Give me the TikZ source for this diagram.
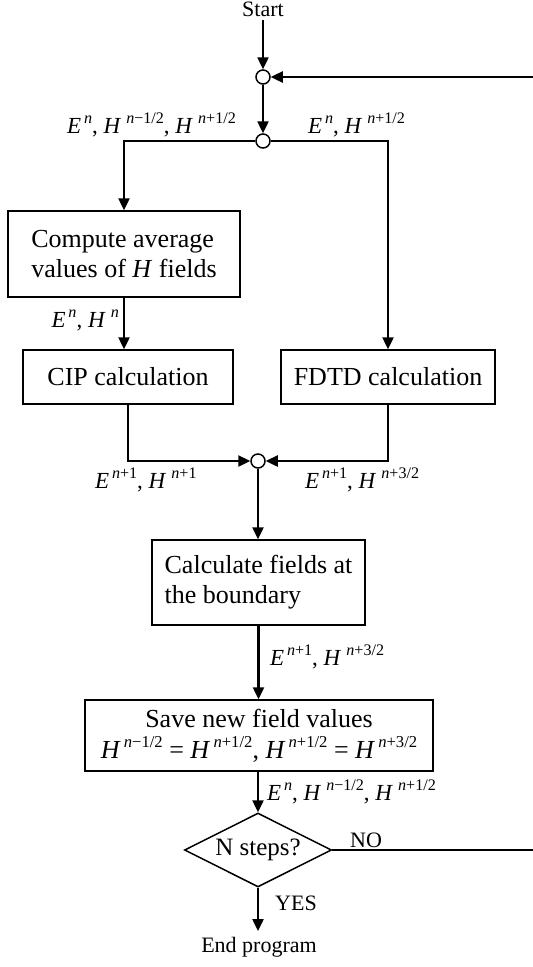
\documentclass[tikz,border=0pt]{standalone}
\usepackage{fontspec}
\setmainfont{Liberation Serif}
\usetikzlibrary{arrows.meta,shapes.geometric}
\makeatletter
\newcommand\sups[2][0.7]{\raisebox{0.42em}{\fontsize{\strip@pt\dimexpr#1\dimexpr\f@size pt\relax\relax}{1}\selectfont #2}}
\makeatother
\newcommand\Fd[2]{\textit{#1}\kern0.12em\sups{#2}}
\newcommand\Hd[1]{\textit{H}\kern0.22em\sups{#1}}
\newcommand\Hs[1]{\textit{H}\kern0.12em\sups[0.64]{#1}}
\newcommand\nn{\textit{n}}
\begin{document}
\begin{tikzpicture}[x=1pt,y=-1pt,
  box/.style={draw,line width=1.5pt,inner sep=0pt,font=\fontsize{26}{30}\selectfont},
  lbl/.style={inner sep=0pt,font=\fontsize{23}{27}\selectfont},
  jn/.style={circle,draw,fill=white,line width=1.5pt,minimum size=14pt,inner sep=0pt},
  conn/.style={line width=2.4pt},
  arr/.style={conn,-{Triangle[length=12pt,width=11pt]}}]
\useasboundingbox (0,0) rectangle (533,967);

\node[lbl,anchor=base,outer sep=4pt,font=\fontsize{22}{26}\selectfont] (start) at (263,16) {Start};
\node[jn] (c1) at (263,77) {};
\node[jn] (c2) at (263,141) {};
\node[box,minimum width=232pt,minimum height=86pt,align=left] (avg) at (124,254) {Compute average\\values of \textit{H} fields};
\node[box,minimum width=210pt,minimum height=54pt] (cip) at (128,377) {CIP calculation};
\node[box,minimum width=214pt,minimum height=54pt] (fdtd) at (388,377) {FDTD calculation};
\node[jn] (c3) at (258,461) {};
\node[box,minimum width=213pt,minimum height=85pt,align=left] (calc) at (258.5,582.5) {Calculate fields at\\the boundary};
\node[box,minimum width=348pt,minimum height=71pt,align=center,font=\fontsize{26}{31}\selectfont] (save) at (259,735.5) {Save new field values\\\Hs{\nn−1/2} = \Hs{\nn+1/2}, \Hs{\nn+1/2} = \Hs{\nn+3/2}};
\node[diamond,draw,aspect=2,line width=1.5pt,minimum width=147pt,minimum height=74pt,inner sep=0pt,font=\fontsize{25}{30}\selectfont] (dec) at (258,850) {N steps?};
\node[lbl,anchor=base,font=\fontsize{22}{26}\selectfont] (endp) at (259,952) {End program};
\coordinate (yesend) at (258,931);
\coordinate (rb) at (538,850);

\draw[arr] (start.south) -- (c1.north);
\draw[arr] (c1.south) -- (c2.north);
\draw[arr] (c2.west) -| (avg.north);
\draw[arr] (c2.east) -| (fdtd.north);
\draw[arr] (avg.south) -- (avg.south |- cip.north);
\draw[arr] (cip.south) |- (c3.west);
\draw[arr] (fdtd.south) |- (c3.east);
\draw[arr] (c3.south) -- (c3.south |- calc.north);
\draw[arr] (calc.south) -- (calc.south |- save.north);
\draw[arr] (dec.north |- save.south) -- (dec.north);
\draw[arr] (dec.south) -- (yesend);
\draw[arr] (dec.east) -- (rb) |- (c1.east);

\node[lbl,anchor=base west] (l1) at (67,133) {\Fd{E}{\nn}, \Hd{\nn−1/2}, \Hd{\nn+1/2}};
\node[lbl,anchor=base west] (l2) at (308,133) {\Fd{E}{\nn}, \Hd{\nn+1/2}};
\node[lbl,anchor=base east] (l3) at (119,327) {\Fd{E}{\nn}, \Hd{\nn}};
\node[lbl,anchor=base west] (l4) at (95,488) {\Fd{E}{\nn+1}, \Hd{\nn+1}};
\node[lbl,anchor=base west] (l5) at (305,488) {\Fd{E}{\nn+1}, \Hd{\nn+3/2}};
\node[lbl,anchor=base west] (l6) at (270,665) {\Fd{E}{\nn+1}, \Hd{\nn+3/2}};
\node[lbl,anchor=base west] (l7) at (267,800) {\Fd{E}{\nn}, \Hd{\nn−1/2}, \Hd{\nn+1/2}};
\node[lbl,anchor=base west,font=\fontsize{22}{26}\selectfont] (yes) at (275,910) {YES};
\node[lbl,anchor=base west,font=\fontsize{22}{26}\selectfont] (no) at (350,847) {NO};
\end{tikzpicture}
\end{document}
